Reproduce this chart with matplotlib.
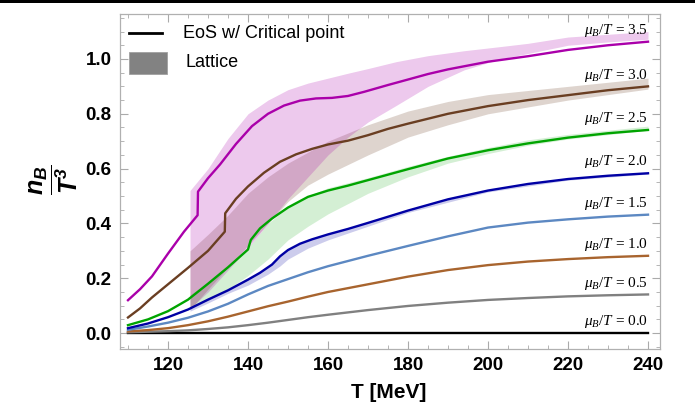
import matplotlib
matplotlib.use("Agg")
import matplotlib.pyplot as plt
from matplotlib.patches import Rectangle
from matplotlib.ticker import MultipleLocator

plt.rcParams['font.family'] = ['Liberation Sans', 'DejaVu Sans']
plt.rcParams['mathtext.fontset'] = 'custom'
plt.rcParams['mathtext.rm'] = 'Liberation Serif'
plt.rcParams['mathtext.it'] = 'Liberation Serif:italic'
plt.rcParams['mathtext.bfit'] = 'Liberation Sans:italic:bold'
plt.rcParams['mathtext.bf'] = 'Liberation Sans:bold'

# EoS curves, n_B/T^3 vs T [MeV], one per mu_B/T
mu_labels = ['0.0', '0.5', '1.0', '1.5', '2.0', '2.5', '3.0', '3.5']
line_colors = ['#000000', '#808080', '#a8642e', '#5c88c2', '#0000a4', '#00a400', '#6a3e22', '#aa00aa']

T_00 = [110, 240]
nb_00 = [0.0, 0.0]

T_low = [110, 115, 120, 125, 130, 135, 140, 145, 150, 155, 160, 170, 180, 190, 200, 210, 220, 230, 240]
nb_05 = [0.003, 0.005, 0.007, 0.010, 0.015, 0.021, 0.029, 0.038, 0.048, 0.058, 0.067, 0.084, 0.099, 0.111, 0.121, 0.128, 0.134, 0.138, 0.141]
nb_10 = [0.006, 0.011, 0.018, 0.029, 0.043, 0.060, 0.079, 0.098, 0.115, 0.133, 0.150, 0.178, 0.206, 0.230, 0.248, 0.261, 0.270, 0.277, 0.282]
nb_15 = [0.012, 0.024, 0.038, 0.056, 0.079, 0.107, 0.141, 0.172, 0.197, 0.222, 0.244, 0.282, 0.318, 0.353, 0.385, 0.403, 0.415, 0.425, 0.432]

T_20 = [110, 115, 120, 125, 130, 135, 140, 143, 146, 148, 150, 153, 156, 160, 165, 170, 180, 190, 200, 210, 220, 230, 240]
nb_20 = [0.018, 0.035, 0.058, 0.086, 0.122, 0.156, 0.195, 0.220, 0.250, 0.280, 0.303, 0.326, 0.342, 0.360, 0.380, 0.402, 0.447, 0.488, 0.520, 0.544, 0.562, 0.574, 0.583]

T_25 = [110, 115, 120, 125, 130, 135, 140, 140.7, 143, 146, 150, 155, 160, 165, 170, 180, 190, 200, 210, 220, 230, 240]
nb_25 = [0.029, 0.050, 0.080, 0.122, 0.180, 0.240, 0.305, 0.340, 0.382, 0.418, 0.458, 0.497, 0.520, 0.538, 0.558, 0.598, 0.637, 0.667, 0.692, 0.713, 0.729, 0.741]

T_30 = [110, 113, 116, 120, 125, 130, 134.2, 134.3, 137, 140, 144, 148, 152, 156, 160, 165, 170, 175, 180, 190, 200, 210, 220, 230, 240]
nb_30 = [0.057, 0.090, 0.130, 0.178, 0.238, 0.300, 0.370, 0.437, 0.490, 0.535, 0.585, 0.625, 0.652, 0.672, 0.688, 0.702, 0.722, 0.745, 0.764, 0.800, 0.828, 0.850, 0.868, 0.886, 0.900]

T_35 = [110, 113, 116, 120, 124, 127.4, 127.5, 130, 133, 137, 141, 145, 149, 153, 157, 161, 165, 169, 175, 180, 185, 190, 200, 210, 220, 230, 240]
nb_35 = [0.120, 0.160, 0.207, 0.290, 0.370, 0.430, 0.516, 0.565, 0.615, 0.690, 0.755, 0.800, 0.830, 0.848, 0.856, 0.858, 0.865, 0.880, 0.905, 0.925, 0.945, 0.962, 0.990, 1.010, 1.033, 1.050, 1.063]

# lattice bands (lower, upper)
T_b20 = [125.5, 130, 135, 140, 145, 148, 150, 155, 160, 170, 180, 200, 220, 240]
lo_20 = [0.080, 0.110, 0.145, 0.175, 0.215, 0.245, 0.270, 0.310, 0.340, 0.390, 0.440, 0.515, 0.558, 0.580]
hi_20 = [0.095, 0.128, 0.160, 0.198, 0.240, 0.280, 0.305, 0.342, 0.362, 0.404, 0.450, 0.524, 0.566, 0.587]

T_b25 = [125.5, 130, 135, 140, 145, 150, 155, 160, 170, 180, 190, 200, 210, 220, 240]
lo_25 = [0.095, 0.120, 0.160, 0.210, 0.270, 0.340, 0.390, 0.435, 0.510, 0.570, 0.620, 0.655, 0.685, 0.708, 0.740]
hi_25 = [0.140, 0.185, 0.245, 0.310, 0.400, 0.460, 0.500, 0.530, 0.567, 0.608, 0.645, 0.677, 0.705, 0.725, 0.755]

T_b30 = [125.5, 130, 135, 140, 145, 150, 155, 160, 170, 180, 190, 200, 210, 220, 230, 240]
lo_30 = [0.085, 0.160, 0.240, 0.320, 0.400, 0.480, 0.540, 0.580, 0.650, 0.715, 0.760, 0.800, 0.825, 0.850, 0.870, 0.890]
hi_30 = [0.300, 0.360, 0.430, 0.510, 0.570, 0.620, 0.660, 0.700, 0.760, 0.810, 0.845, 0.870, 0.885, 0.900, 0.915, 0.930]

T_b35 = [125.5, 130, 135, 140, 145, 150, 155, 160, 165, 170, 177, 185, 194, 203, 210, 220, 230, 240]
lo_35 = [0.090, 0.150, 0.230, 0.310, 0.400, 0.490, 0.570, 0.650, 0.715, 0.770, 0.830, 0.900, 0.960, 1.000, 1.020, 1.050, 1.062, 1.072]
hi_35 = [0.520, 0.600, 0.710, 0.800, 0.850, 0.888, 0.912, 0.930, 0.948, 0.965, 0.990, 1.012, 1.030, 1.045, 1.057, 1.080, 1.090, 1.100]

curves = [(T_00, nb_00), (T_low, nb_05), (T_low, nb_10), (T_low, nb_15),
          (T_20, nb_20), (T_25, nb_25), (T_30, nb_30), (T_35, nb_35)]
bands = [(T_b20, lo_20, hi_20, '#0000a4', 0.20),
         (T_b25, lo_25, hi_25, '#00a400', 0.17),
         (T_b30, lo_30, hi_30, '#6a3e22', 0.22),
         (T_b35, lo_35, hi_35, '#aa00aa', 0.21)]

fig = plt.figure(figsize=(6.95, 4.05), dpi=100)
ax = fig.add_axes([120 / 695, 56 / 405, 540 / 695, 335 / 405])

for T, lo, hi, c, a in bands:
    ax.fill_between(T, lo, hi, color=c, alpha=a, lw=0)

for (T, nb), c, lab in zip(curves, line_colors, mu_labels):
    ax.plot(T, nb, color=c, lw=1.7, solid_joinstyle='round')
    ax.annotate(r'$\mu_B/T$ = ' + lab, xy=(T[-1], nb[-1]), xytext=(0, 2),
                textcoords='offset points', ha='right', va='bottom',
                fontsize=11, family='Liberation Serif')

ax.set_xlim(108, 243)
ax.set_ylim(-0.058, 1.164)
ax.xaxis.set_major_locator(MultipleLocator(20))
ax.xaxis.set_minor_locator(MultipleLocator(5))
ax.yaxis.set_major_locator(MultipleLocator(0.2))
ax.yaxis.set_minor_locator(MultipleLocator(0.05))
ax.yaxis.set_major_formatter(plt.FormatStrFormatter('%.1f'))
ax.tick_params(which='both', direction='in', top=True, right=True, color='#aaaaaa')
ax.tick_params(which='major', length=6, width=0.8, labelsize=13.5, pad=6)
ax.tick_params(which='minor', length=3, width=0.6)
for lbl in ax.get_xticklabels() + ax.get_yticklabels():
    lbl.set_fontweight('bold')
for s in ax.spines.values():
    s.set_color('#b0b0b0')
    s.set_linewidth(0.9)

# legend drawn by hand
ax.plot([0.017, 0.078], [0.943, 0.943], color='black', lw=2, transform=ax.transAxes)
ax.text(0.117, 0.943, 'EoS w/ Critical point', transform=ax.transAxes, va='center', fontsize=13)
ax.add_patch(Rectangle((0.017, 0.821), 0.070, 0.066, transform=ax.transAxes,
                       facecolor='#828282', edgecolor='#a0a0a0', lw=0.6))
ax.text(0.122, 0.854, 'Lattice', transform=ax.transAxes, va='center', fontsize=13)

fig.text(389 / 695, 12 / 405, 'T [MeV]', ha='center', va='center', fontsize=15, fontweight='bold')
fig.text(54 / 695, 225 / 405, r'$\mathbfit{\dfrac{n_B}{T^3}}$', ha='center', va='center',
         rotation=90, fontsize=18)

fig.patches.append(Rectangle((0, 1 - 3 / 405), 1, 3 / 405, transform=fig.transFigure,
                             facecolor='black', edgecolor='none'))

fig.savefig('out.png', dpi=100)
